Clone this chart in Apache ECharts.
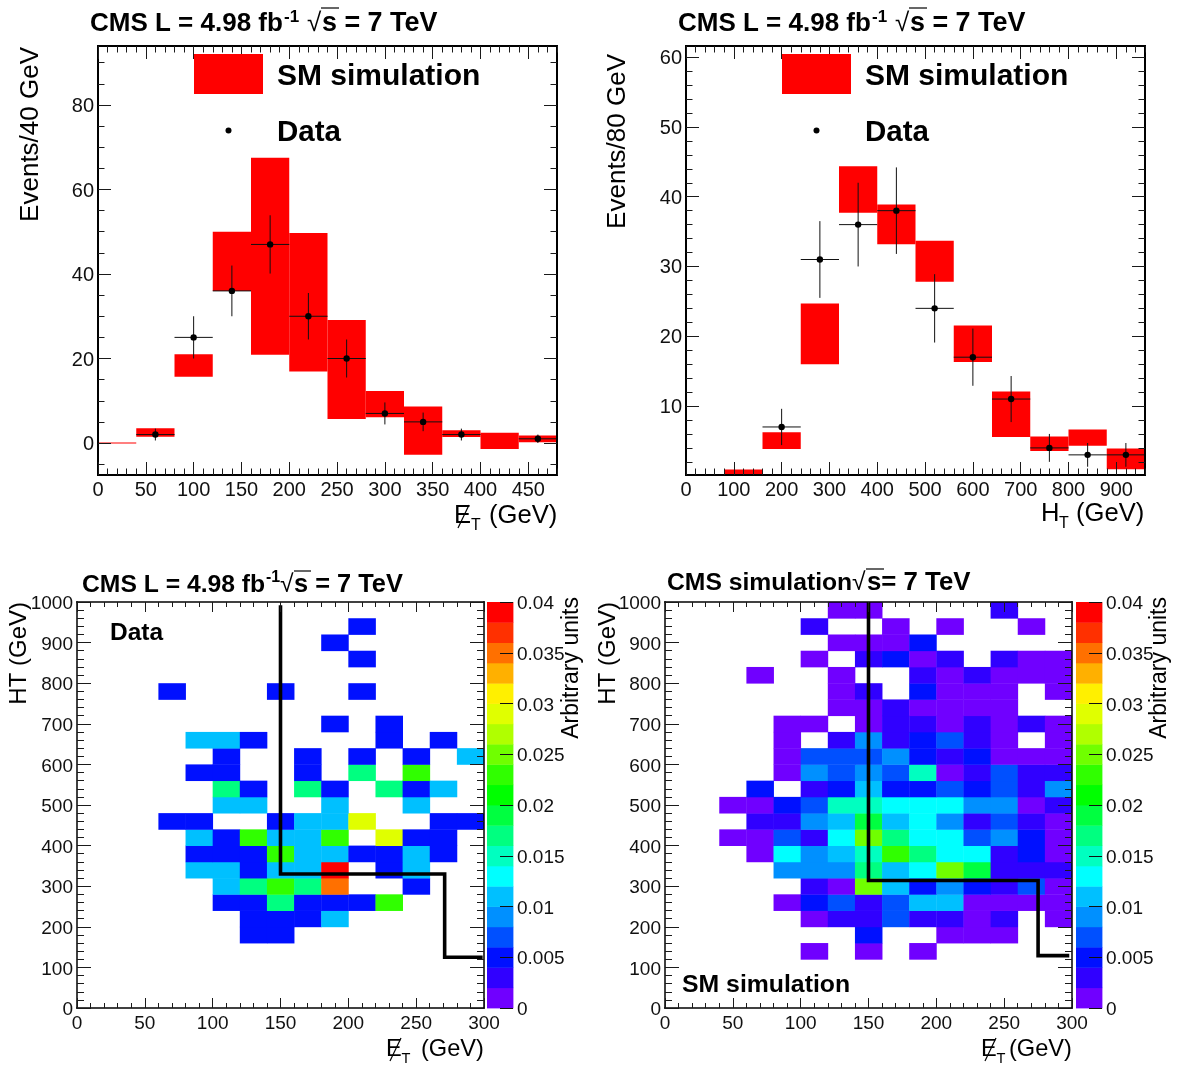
<!DOCTYPE html>
<html>
<head>
<meta charset="utf-8">
<style>html,body{margin:0;padding:0;background:#fff}#c{width:1180px;height:1065px}</style>
<script src="https://cdn.jsdelivr.net/npm/echarts@6/dist/echarts.min.js"></script>
</head>
<body>
<div id="c"></div>
<script>
// ---- top-left: MET histogram (40 GeV bins): [bin low, bin high, band low, band high]
const metBand = [
 [0,40,-0.1,0.1],[40,80,1.5,3.5],[80,120,15.7,21],[120,160,36,50],[160,200,20.9,67.5],[200,240,16.9,49.7],
 [240,280,5.7,29.1],[280,320,6.1,12.3],[320,360,-2.8,8.65],[360,400,1.4,3],[400,440,-1.4,2.4],[440,480,0.2,1.8]
];
// [centre, count, half bin, error]
const metData = [
 [60,2,20,1.4],[100,25,20,5],[140,36,20,6],[180,47,20,6.9],[220,30,20,5.5],[260,20,20,4.5],
 [300,7,20,2.6],[340,5,20,2.2],[380,2,20,1.4],[460,1,20,1]
];
// ---- top-right: HT histogram (80 GeV bins)
const htBand = [
 [80,160,0.03,0.92],[160,240,3.83,6.25],[240,320,16,24.7],[320,400,37.7,44.35],[400,480,33.2,38.9],[480,560,27.8,33.7],
 [560,640,16.3,21.55],[640,720,5.55,12.1],[720,800,3.55,5.65],[800,880,4.3,6.65],[880,960,0.95,3.9]
];
const htData = [
 [200,7,40,2.6],[280,31,40,5.5],[360,36,40,6],[440,38,40,6.2],[520,24,40,4.9],[600,17,40,4.1],
 [680,11,40,3.3],[760,4,40,2],[840,3,40,1.7],[920,3,40,1.7]
];
// ---- 2D maps: rows from HT = 0 upward (40 GeV each), columns from MET = 0 (20 GeV each), z in units of 0.001
const dataZ = [
 [0,0,0,0,0,0,0,0,0,0,0,0,0,0,0],
 [0,0,0,0,0,0,0,0,0,0,0,0,0,0,0],
 [0,0,0,0,0,0,0,0,0,0,0,0,0,0,0],
 [0,0,0,0,0,0,0,0,0,0,0,0,0,0,0],
 [0,0,0,0,0,0,5,5,0,0,0,0,0,0,0],
 [0,0,0,0,0,0,5,5,5,11,0,0,0,0,0],
 [0,0,0,0,0,5,5,17,5,5,5,23,0,0,0],
 [0,0,0,0,0,11,17,23,17,35,0,0,5,0,0],
 [0,0,0,0,11,11,5,11,11,39,0,5,11,0,0],
 [0,0,0,0,5,5,5,23,11,11,5,5,11,5,0],
 [0,0,0,0,11,5,23,11,11,23,0,29,5,5,0],
 [0,0,0,5,5,0,0,5,11,11,29,0,0,5,5],
 [0,0,0,0,0,11,11,0,0,11,0,0,11,0,0],
 [0,0,0,0,0,17,5,0,17,5,0,17,5,11,0],
 [0,0,0,0,5,5,0,0,5,0,17,0,23,0,0],
 [0,0,0,0,0,5,0,0,5,0,5,0,5,0,11],
 [0,0,0,0,11,11,5,0,0,0,0,5,0,5,0],
 [0,0,0,0,0,0,0,0,0,5,0,5,0,0,0],
 [0,0,0,0,0,0,0,0,0,0,0,0,0,0,0],
 [0,0,0,5,0,0,0,5,0,0,5,0,0,0,0],
 [0,0,0,0,0,0,0,0,0,0,0,0,0,0,0],
 [0,0,0,0,0,0,0,0,0,0,5,0,0,0,0],
 [0,0,0,0,0,0,0,0,0,5,0,0,0,0,0],
 [0,0,0,0,0,0,0,0,0,0,5,0,0,0,0],
 [0,0,0,0,0,0,0,0,0,0,0,0,0,0,0]
];
const simZ = [
 [0,0,0,0,0,0,0,0,0,0,0,0,0,0,0],
 [0,0,0,0,0,0,0,0,0,0,0,0,0,0,0],
 [0,0,0,0,0,0,0,0,0,0,0,0,0,0,0],
 [0,0,0,0,0,1,0,1,0,1,0,0,0,0,0],
 [0,0,0,0,0,0,0,5,0,0,1,1,1,0,0],
 [0,0,0,0,0,1,3,3,7,3,3,1,3,0,1],
 [0,0,0,0,1,5,7,3,7,11,11,1,1,1,1],
 [0,0,0,0,0,3,1,25,11,5,9,5,3,7,1],
 [0,0,0,0,9,9,9,17,11,13,25,19,3,3,3],
 [0,0,0,1,13,9,11,15,23,17,13,13,3,5,1],
 [0,0,1,1,7,3,13,25,17,13,13,7,9,5,1],
 [0,0,0,3,3,9,11,19,11,13,9,3,7,3,1],
 [0,0,1,1,5,7,15,15,13,13,13,9,9,1,3],
 [0,0,0,5,0,3,5,11,5,5,7,5,7,3,9],
 [0,0,0,0,1,9,7,9,7,15,1,3,7,3,3],
 [0,0,0,0,1,7,7,7,9,5,3,5,1,1,1],
 [0,0,0,0,1,0,3,9,3,5,7,3,1,0,1],
 [0,0,0,0,1,1,0,1,3,3,1,3,1,3,1],
 [0,0,0,0,0,0,1,1,3,1,1,1,1,0,0],
 [0,0,0,0,0,0,1,3,0,5,1,1,1,0,1],
 [0,0,0,1,0,0,1,0,0,3,1,3,1,1,1],
 [0,0,0,0,0,1,0,3,5,1,3,0,3,1,1],
 [0,0,0,0,0,0,1,1,1,5,0,0,0,0,0],
 [0,0,0,0,0,3,0,0,1,0,1,0,0,1,0],
 [0,0,0,0,0,0,1,1,0,0,0,0,3,0,0]
];
const dataCut = [[150,992],[150,330],[271,330],[271,125],[299,125]];
const simCut = [[150,1000],[150,314],[275,314],[275,129],[298,129]];
// ---- colour scale, bottom to top
const palette = ['#7000ff','#3000ff','#0010ff','#0050ff','#0090ff','#00c0ff','#00ffff','#00ffc0','#00ff80','#00ff40',
 '#00ff00','#30ff00','#70ff00','#b0ff00','#e0ff00','#fff000','#ffb000','#ff7000','#ff3000','#ff0000'];
const zEdges = [0,0.002,0.004,0.006,0.008,0.01,0.012,0.014,0.016,0.018,0.02,0.022,0.024,0.026,0.028,0.03,0.032,0.034,0.036,0.038,0.04];
const zTicks = [0,0.005,0.01,0.015,0.02,0.025,0.03,0.035,0.04];
// ---- axis ticks
const met1Ticks = [0,50,100,150,200,250,300,350,400,450];
const met1Y = [0,20,40,60,80];
const htTicks = [0,100,200,300,400,500,600,700,800,900];
const ht1Y = [10,20,30,40,50,60];
const mapX = [0,50,100,150,200,250,300];
const mapY = [0,100,200,300,400,500,600,700,800,900,1000];

const FONT = '"Liberation Sans", Arial, sans-serif';
const range = (a, b, s) => { const r = []; for (let v = a; v <= b + 1e-9; v += s) r.push(+v.toFixed(6)); return r; };

const grids = [], xAxes = [], yAxes = [], series = [], gfx = [];

function axis(dim, g, min, max, pos, vals, len, o) {
  o = o || {};
  const lab = {show: !!o.label, customValues: vals, color: '#111', fontFamily: FONT, fontSize: o.fs || 20, margin: o.margin === undefined ? 5 : o.margin,
      hideOverlap: false, showMinLabel: true, showMaxLabel: true, formatter: v => String(v)};
  if (o.lh) { lab.verticalAlign = 'top'; lab.lineHeight = o.lh; }
  return {
    type: 'value', gridIndex: g, min, max, position: pos, z: 6, scale: false,
    axisLine: {show: !!o.line, onZero: false, lineStyle: {color: '#000', width: o.line || 1, cap: 'square'}},
    axisTick: {show: true, inside: true, length: len, customValues: vals, lineStyle: {color: '#1a1a1a', width: 1}},
    axisLabel: lab,
    splitLine: {show: false}, minorTick: {show: false}, minorSplitLine: {show: false}
  };
}
// returns the index of the primary axis; adds opposite and minor-tick companions
function fullAxis(list, dim, g, min, max, major, minorStep, lenMaj, lenMin, frame, fs, margin, lh) {
  const idx = list.length;
  const minors = range(Math.ceil(min / minorStep) * minorStep, max, minorStep);
  const p1 = dim === 'x' ? 'bottom' : 'left', p2 = dim === 'x' ? 'top' : 'right';
  list.push(axis(dim, g, min, max, p1, major, lenMaj, {line: frame, label: true, fs, margin, lh}));
  list.push(axis(dim, g, min, max, p2, major, lenMaj, {line: frame}));
  list.push(axis(dim, g, min, max, p1, minors, lenMin));
  list.push(axis(dim, g, min, max, p2, minors, lenMin));
  return idx;
}

function renderBand(params, api) {
  const a = api.coord([api.value(0), api.value(3)]), b = api.coord([api.value(1), api.value(2)]);
  return {type: 'rect', shape: {x: a[0], y: a[1], width: b[0] - a[0], height: b[1] - a[1]}, style: {fill: '#ff0000'}};
}
function renderPoint(params, api) {
  const x = api.value(0), y = api.value(1), ex = api.value(2), ey = api.value(3);
  const c = api.coord([x, y]), l = api.coord([x - ex, y]), r = api.coord([x + ex, y]), t = api.coord([x, y + ey]), d = api.coord([x, y - ey]);
  const st = {stroke: '#111', lineWidth: 1, fill: null};
  return {type: 'group', children: [
    {type: 'line', shape: {x1: l[0], y1: c[1], x2: r[0], y2: c[1]}, style: st},
    {type: 'line', shape: {x1: c[0], y1: t[1], x2: c[0], y2: d[1]}, style: st},
    {type: 'circle', shape: {cx: c[0], cy: c[1], r: 3.2}, style: {fill: '#000'}}
  ]};
}
function renderCell(params, api) {
  const a = api.coord([api.value(0), api.value(3)]), b = api.coord([api.value(1), api.value(2)]);
  return {type: 'rect', shape: {x: a[0], y: a[1], width: b[0] - a[0] + 0.4, height: b[1] - a[1] + 0.4}, style: {fill: palette[api.value(4)]}};
}

function histPanel(box, xMax, yMin, yMax, xt, xMinor, yt, yMinor, band, pts) {
  const g = grids.length;
  grids.push({left: box[0], top: box[1], width: box[2], height: box[3], containLabel: false, outerBoundsMode: 'none', show: false});
  const xi = fullAxis(xAxes, 'x', g, 0, xMax, xt, xMinor, 13, 6.5, 2, 20, 5);
  const yi = fullAxis(yAxes, 'y', g, yMin, yMax, yt, yMinor, 13, 6.5, 2, 20, 4, 3);
  series.push({name: 'SM simulation', type: 'custom', xAxisIndex: xi, yAxisIndex: yi, clip: true, silent: true, z: 2,
    data: band, encode: {x: [0, 1], y: [2, 3]}, renderItem: renderBand});
  series.push({name: 'Data', type: 'custom', xAxisIndex: xi, yAxisIndex: yi, clip: true, silent: true, z: 3,
    data: pts, encode: {x: 0, y: 1}, renderItem: renderPoint});
}
function mapPanel(box, cbarBox, z, cut) {
  const g = grids.length;
  grids.push({left: box[0], top: box[1], width: box[2], height: box[3], containLabel: false, outerBoundsMode: 'none', show: false});
  const xi = fullAxis(xAxes, 'x', g, 0, 300, mapX, 10, 10, 5, 1.5, 19, 6);
  const yi = fullAxis(yAxes, 'y', g, 0, 1000, mapY, 20, 14, 7, 1.5, 19, 4, 4);
  const cells = [];
  z.forEach((row, r) => row.forEach((v, c) => { if (v > 0) cells.push([c * 20, c * 20 + 20, r * 40, r * 40 + 40, Math.floor(v / 2)]); }));
  series.push({name: 'cells', type: 'custom', xAxisIndex: xi, yAxisIndex: yi, clip: true, silent: true, z: 2,
    data: cells, encode: {x: [0, 1], y: [2, 3]}, renderItem: renderCell});
  series.push({name: 'cut', type: 'line', xAxisIndex: xi, yAxisIndex: yi, silent: true, z: 3, showSymbol: false, symbol: 'none',
    data: cut, lineStyle: {color: '#000', width: 3.6, join: 'miter', cap: 'butt'}});
  // colour bar
  const cg = grids.length;
  grids.push({left: cbarBox[0], top: cbarBox[1], width: cbarBox[2], height: cbarBox[3], containLabel: false, outerBoundsMode: 'none', show: false});
  const cx = xAxes.length;
  xAxes.push({type: 'value', gridIndex: cg, min: 0, max: 1, show: false});
  const cy = yAxes.length;
  yAxes.push({type: 'value', gridIndex: cg, min: 0, max: 0.04, position: 'right', z: 6,
    axisLine: {show: false, onZero: false},
    axisTick: {show: true, inside: true, length: 13, customValues: zTicks, lineStyle: {color: '#111', width: 1}},
    axisLabel: {show: true, customValues: zTicks, color: '#111', fontFamily: FONT, fontSize: 19, margin: 4, verticalAlign: 'top', lineHeight: 4, hideOverlap: false, formatter: v => String(v)},
    splitLine: {show: false}});
  series.push({name: 'colour scale', type: 'custom', xAxisIndex: cx, yAxisIndex: cy, silent: true, z: 2,
    data: palette.map((c, i) => [0, 1, zEdges[i], zEdges[i + 1], i]), encode: {x: [0, 1], y: [2, 3]}, renderItem: renderCell});
}

histPanel([98, 46, 459, 429], 480, -7.57, 93.96, met1Ticks, 10, met1Y, 5, metBand, metData);
histPanel([686, 46, 459, 429], 960, 0.115, 61.6, htTicks, 20, ht1Y, 2, htBand, htData);
mapPanel([77, 602, 407, 406], [487, 602, 26, 406], dataZ, dataCut);
mapPanel([665, 602, 407, 406], [1076, 602, 26, 406], simZ, simCut);

// ---- text helpers
function T(x, y, text, size, o) {
  o = o || {};
  gfx.push({type: 'text', z: 50, x: o.rot ? x + 1 : x, y: o.rot ? y : y + 1, rotation: o.rot ? Math.PI / 2 : 0, silent: true,
    style: {text, fill: o.fill || '#000', fontFamily: FONT, fontSize: size, fontWeight: o.bold ? 'bold' : 'normal',
      textAlign: o.align || 'left', textVerticalAlign: 'middle', verticalAlign: 'middle'}});
}
function L(x1, y1, x2, y2, w) {
  gfx.push({type: 'line', z: 50, silent: true, shape: {x1, y1, x2, y2}, style: {stroke: '#000', lineWidth: w || 1.2}});
}
function title26(dx) {
  T(90 + dx, 23, 'CMS L = 4.98 fb', 26, {bold: true});
  T(284 + dx, 16, '-1', 17, {bold: true});
  T(307 + dx, 23, '√', 26, {});
  L(321 + dx, 8, 339 + dx, 8);
  T(322 + dx, 23, 's = 7 TeV', 26.9, {bold: true});
}
title26(0); title26(588);

// legends
function legend(dx) {
  gfx.push({type: 'rect', z: 40, silent: true, shape: {x: 194 + dx, y: 54, width: 69, height: 40}, style: {fill: '#ff0000'}});
  gfx.push({type: 'circle', z: 40, silent: true, shape: {cx: 228.5 + dx, cy: 130.5, r: 3}, style: {fill: '#000'}});
  T(277 + dx, 76, 'SM simulation', 30, {bold: true});
  T(277 + dx, 132, 'Data', 29.5, {bold: true});
}
legend(0); legend(588);

// y titles
T(30, 47, 'Events/40 GeV', 26, {rot: true, align: 'right'});
T(617, 54, 'Events/80 GeV', 26, {rot: true, align: 'right'});
T(18, 602, 'HT (GeV)', 24, {rot: true, align: 'right'});
T(607, 602, 'HT (GeV)', 24, {rot: true, align: 'right'});
T(571, 597, 'Arbitrary units', 23, {rot: true, align: 'right'});
T(1159, 597, 'Arbitrary units', 23, {rot: true, align: 'right'});

// x titles
function metTitle(x, y, size, restX) {
  T(x, y, 'E', size);
  L(x + 4, y + 13, x + 15, y - 10, 1.2);
  T(x + size * 0.66, y + 10, 'T', size * 0.62);
  T(restX, y, '(GeV)', size);
}
metTitle(454, 515, 25.6, 489);
T(1041, 513, 'H', 25.6);
T(1059, 523, 'T', 16);
T(1076, 513, '(GeV)', 25.6);
metTitle(386, 1048, 23.6, 421);
metTitle(981, 1048, 23.6, 1009);

// lower titles
T(82, 584, 'CMS L = 4.98 fb', 24.7, {bold: true});
T(266, 577, '-1', 16, {bold: true});
T(280, 584, '√', 24.7);
L(294, 571, 311, 571);
T(294, 584, 's = 7 TeV', 25.4, {bold: true});
T(667, 582, 'CMS simulation', 24.7, {bold: true});
T(852, 582, '√', 24.7);
L(866, 569, 884, 569);
T(867, 582, 's= 7 TeV', 25.8, {bold: true});
T(110, 632, 'Data', 24.5, {bold: true});
T(682, 984, 'SM simulation', 24.8, {bold: true});

const chart = echarts.init(document.getElementById('c'), null, {renderer: 'canvas', width: 1180, height: 1065});
chart.setOption({animation: false, backgroundColor: '#fff', tooltip: {show: false}, legend: {show: false},
  grid: grids, xAxis: xAxes, yAxis: yAxes, series, graphic: {elements: gfx}});
</script>
</body>
</html>
